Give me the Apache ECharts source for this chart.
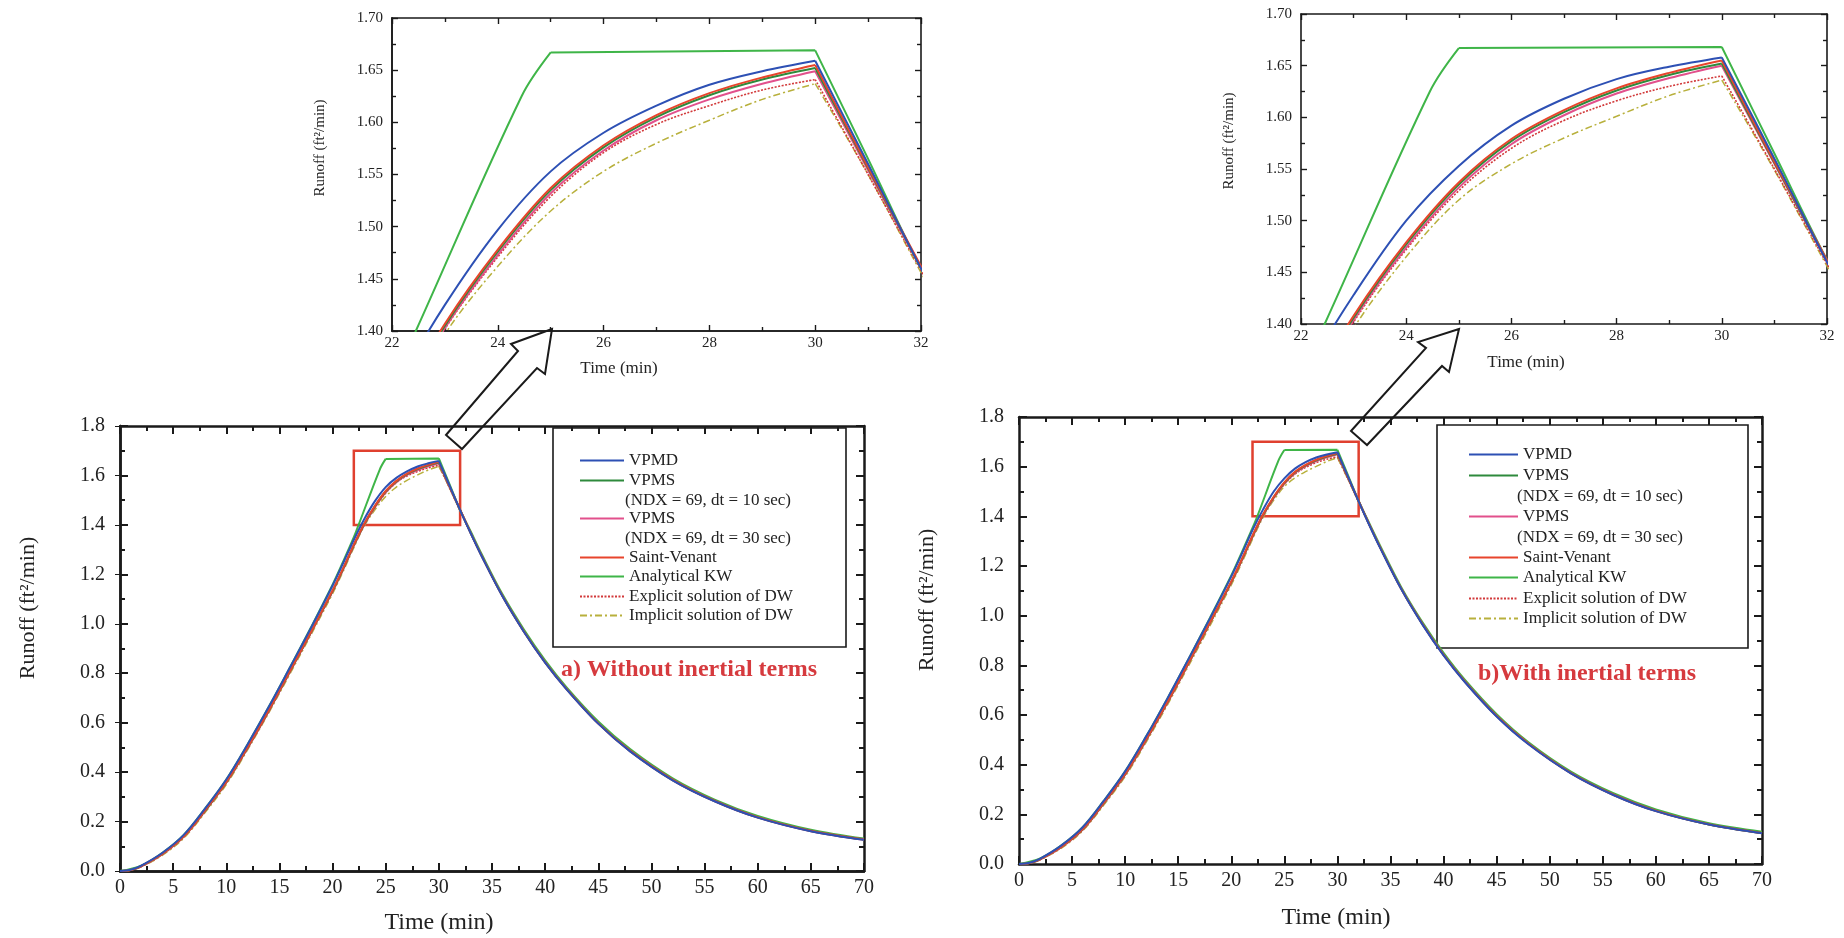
<!DOCTYPE html>
<html>

<head>
    <meta charset="utf-8">
    <title>Runoff hydrographs - with / without inertial terms</title>
    <style>
        html,
        body {
            margin: 0;
            padding: 0;
            background-color: #fff;
        }
        #chart {
            width: 1844px;
            height: 938px;
        }
    </style>
</head>

<body>
    <div id="chart"></div>

    <script src="https://cdn.jsdelivr.net/npm/echarts@6/dist/echarts.min.js"></script>

    <script>
        // ---- data (time in min, runoff in ft2/min) ----
        var timeSteps = [0, 1, 2, 4, 6, 8, 10, 12, 14, 16, 18, 20, 21, 22, 23, 24, 25, 26, 27, 28, 29, 30,
            31, 32, 33, 34, 36, 38, 40, 42, 45, 48, 52, 56, 60, 65, 70];
        var kwTime = [0, 2, 4, 6, 8, 10, 12, 14, 16, 18, 20, 21, 22, 22.45, 24.45, 25, 30,
            31, 32, 33, 34, 36, 38, 40, 42, 45, 48, 52, 56, 60, 65, 70];
        var peakTime = 30;   // rain stops here, the hydrographs have a corner
        var kwCorner = 25;   // analytical KW reaches equilibrium

        // a) without inertial terms
        var vpmdA = [0, 0.005, 0.022, 0.074, 0.146, 0.252, 0.37, 0.512, 0.664, 0.824, 0.986, 1.155, 1.246, 1.34, 1.425, 1.497, 1.553, 1.59, 1.616, 1.636, 1.649, 1.659,
            1.56, 1.46, 1.366, 1.276, 1.11, 0.968, 0.843, 0.736, 0.596, 0.484, 0.367, 0.281, 0.216, 0.161, 0.126];
        var vpms10A = [0, 0.004, 0.02, 0.07, 0.14, 0.244, 0.359, 0.499, 0.649, 0.809, 0.969, 1.133, 1.223, 1.318, 1.405, 1.476, 1.535, 1.576, 1.605, 1.626, 1.641, 1.652,
            1.556, 1.461, 1.367, 1.277, 1.111, 0.969, 0.844, 0.737, 0.597, 0.485, 0.368, 0.282, 0.217, 0.162, 0.127];
        var vpms30A = [0, 0.004, 0.019, 0.069, 0.139, 0.243, 0.358, 0.497, 0.647, 0.807, 0.967, 1.131, 1.221, 1.316, 1.403, 1.473, 1.532, 1.573, 1.602, 1.622, 1.637, 1.649,
            1.554, 1.46, 1.366, 1.276, 1.11, 0.968, 0.843, 0.736, 0.596, 0.484, 0.367, 0.281, 0.216, 0.161, 0.126];
        var saintVenantA = [0, 0.004, 0.02, 0.07, 0.14, 0.245, 0.36, 0.5, 0.65, 0.81, 0.97, 1.135, 1.225, 1.32, 1.407, 1.478, 1.537, 1.578, 1.607, 1.628, 1.643, 1.655,
            1.557, 1.462, 1.368, 1.278, 1.112, 0.97, 0.845, 0.738, 0.598, 0.487, 0.37, 0.283, 0.218, 0.163, 0.128];
        var kwA = [0, 0.022, 0.074, 0.146, 0.252, 0.37, 0.512, 0.664, 0.824, 0.988, 1.158, 1.252, 1.35, 1.4, 1.625, 1.667, 1.669,
            1.565, 1.46, 1.373, 1.284, 1.118, 0.977, 0.852, 0.744, 0.605, 0.493, 0.375, 0.288, 0.223, 0.167, 0.131];
        var explicitA = [0, 0.003, 0.018, 0.067, 0.137, 0.241, 0.356, 0.495, 0.645, 0.805, 0.965, 1.129, 1.219, 1.314, 1.402, 1.471, 1.529, 1.571, 1.598, 1.616, 1.631, 1.641,
            1.55, 1.458, 1.366, 1.277, 1.112, 0.97, 0.845, 0.738, 0.598, 0.487, 0.37, 0.283, 0.218, 0.163, 0.128];
        var implicitA = [0, 0.003, 0.017, 0.064, 0.133, 0.236, 0.35, 0.49, 0.64, 0.798, 0.958, 1.122, 1.212, 1.308, 1.397, 1.462, 1.515, 1.553, 1.58, 1.602, 1.622, 1.637,
            1.55, 1.456, 1.365, 1.277, 1.112, 0.97, 0.845, 0.738, 0.598, 0.487, 0.37, 0.283, 0.218, 0.163, 0.128];

        // b) with inertial terms
        var vpmdB = [0, 0.005, 0.022, 0.075, 0.148, 0.255, 0.373, 0.515, 0.668, 0.828, 0.99, 1.158, 1.25, 1.345, 1.428, 1.5, 1.553, 1.592, 1.618, 1.637, 1.649, 1.658,
            1.56, 1.46, 1.365, 1.275, 1.108, 0.965, 0.84, 0.733, 0.594, 0.482, 0.365, 0.278, 0.213, 0.159, 0.124];
        var vpms10B = [0, 0.004, 0.02, 0.07, 0.14, 0.246, 0.362, 0.502, 0.653, 0.812, 0.973, 1.136, 1.226, 1.32, 1.406, 1.477, 1.535, 1.577, 1.605, 1.626, 1.641, 1.652,
            1.556, 1.461, 1.367, 1.277, 1.109, 0.967, 0.842, 0.735, 0.596, 0.484, 0.366, 0.279, 0.214, 0.159, 0.124];
        var vpms30B = [0, 0.004, 0.019, 0.069, 0.139, 0.245, 0.36, 0.5, 0.651, 0.81, 0.971, 1.134, 1.224, 1.318, 1.404, 1.474, 1.532, 1.574, 1.602, 1.623, 1.638, 1.65,
            1.555, 1.46, 1.366, 1.276, 1.108, 0.966, 0.841, 0.734, 0.595, 0.483, 0.365, 0.278, 0.213, 0.159, 0.124];
        var saintVenantB = [0, 0.004, 0.02, 0.07, 0.141, 0.247, 0.363, 0.503, 0.654, 0.813, 0.974, 1.138, 1.228, 1.322, 1.408, 1.479, 1.537, 1.579, 1.607, 1.628, 1.643, 1.655,
            1.557, 1.462, 1.368, 1.278, 1.11, 0.968, 0.843, 0.736, 0.597, 0.485, 0.367, 0.28, 0.215, 0.16, 0.125];
        var kwB = [0, 0.022, 0.075, 0.148, 0.255, 0.373, 0.515, 0.668, 0.828, 0.992, 1.162, 1.256, 1.353, 1.4, 1.625, 1.667, 1.668,
            1.565, 1.462, 1.372, 1.284, 1.116, 0.974, 0.85, 0.742, 0.603, 0.49, 0.372, 0.285, 0.22, 0.164, 0.13];
        var explicitB = [0, 0.003, 0.018, 0.067, 0.137, 0.243, 0.358, 0.498, 0.648, 0.807, 0.968, 1.131, 1.221, 1.316, 1.402, 1.472, 1.529, 1.57, 1.597, 1.616, 1.63, 1.64,
            1.55, 1.458, 1.366, 1.277, 1.11, 0.968, 0.843, 0.736, 0.597, 0.485, 0.367, 0.28, 0.215, 0.16, 0.125];
        var implicitB = [0, 0.003, 0.017, 0.064, 0.134, 0.238, 0.352, 0.492, 0.642, 0.8, 0.96, 1.124, 1.214, 1.308, 1.396, 1.465, 1.52, 1.555, 1.58, 1.601, 1.621, 1.636,
            1.549, 1.456, 1.365, 1.277, 1.11, 0.968, 0.843, 0.736, 0.597, 0.485, 0.367, 0.28, 0.215, 0.16, 0.125];

        // zoom window shown in the insets: [tMin, tMax, qMin, qMax]
        var zoomBox = [22, 32, 1.4, 1.7];

        var seriesNames = ['VPMD', 'VPMS (NDX = 69, dt = 10 sec)', 'VPMS (NDX = 69, dt = 30 sec)', 'Saint-Venant',
            'Analytical KW', 'Explicit solution of DW', 'Implicit solution of DW'];
        var noteLines = ['(NDX = 69, dt = 10 sec)', '(NDX = 69, dt = 30 sec)'];

        // ---- styling ----
        var serif = 'Liberation Serif';
        var ink = '#1a1a1a';
        var clear = 'rgba(0,0,0,0)';
        var lineLook = {
            'VPMD': { color: '#2d50b4', type: 'solid', width: 2 },
            'VPMS (NDX = 69, dt = 10 sec)': { color: '#2e8a3c', type: 'solid', width: 2 },
            'VPMS (NDX = 69, dt = 30 sec)': { color: '#e2508c', type: 'solid', width: 2 },
            'Saint-Venant': { color: '#e8452c', type: 'solid', width: 2 },
            'Analytical KW': { color: '#3fb548', type: 'solid', width: 2 },
            'Explicit solution of DW': { color: '#d2393a', type: [2, 1.5], width: 1.6 },
            'Implicit solution of DW': { color: '#b8b03c', type: [7, 3, 2, 3], width: 1.5 }
        };
        // drawing order (last on top)
        var drawOrder = [6, 5, 2, 1, 4, 3, 0];

        var panels = [{
            main: { left: 120, top: 426, width: 744, height: 445 },
            inset: { left: 392, top: 18, width: 529, height: 313 },
            curves: [vpmdA, vpms10A, vpms30A, saintVenantA, kwA, explicitA, implicitA],
            box: { x: 553, y: 428, w: 293, h: 219 },
            lineX: 579, lineW: 44, textX: 630,
            rows: [462, 482, 501, 520, 539, 559, 578, 598, 617],
            tag: { text: 'a) Without inertial terms', x: 561, y: 670 },
            yName: [28, 608], xName: [439, 923],
            insetYName: [320, 148], insetXName: [619, 369],
            arrow: [[552, 329], [511, 344], [518, 351], [446, 435], [462, 449], [537, 368], [545, 374]]
        }, {
            main: { left: 1019, top: 417, width: 743, height: 447 },
            inset: { left: 1301, top: 14, width: 526, height: 310 },
            curves: [vpmdB, vpms10B, vpms30B, saintVenantB, kwB, explicitB, implicitB],
            box: { x: 1437, y: 425, w: 311, h: 223 },
            lineX: 1468, lineW: 49, textX: 1522,
            rows: [456, 477, 497, 518, 538, 559, 579, 600, 620],
            tag: { text: 'b)With inertial terms', x: 1478, y: 674 },
            yName: [927, 600], xName: [1336, 918],
            insetYName: [1229, 141], insetXName: [1526, 363],
            arrow: [[1459, 329], [1418, 342], [1426, 348], [1351, 431], [1367, 445], [1442, 366], [1449, 372]]
        }];

        // pair times with values and break the polyline at the corners,
        // so that smoothing never rounds over the peak
        function pairs(ts, vs, corners) {
            var out = [];
            ts.forEach(function (t, i) {
                out.push([t, vs[i]]);
                if (corners.indexOf(t) >= 0 && i > 0 && i < ts.length - 1) {
                    out.push([t, '-']);
                    out.push([t, vs[i]]);
                }
            });
            return out;
        }

        // the labelled axes of the first panel keep a plain tick setup
        // (the inward ticks there come from the twin axes added at the end)
        var plainTicks = {
            'ax0x': { axisTick: { show: true, inside: false, length: 8, lineStyle: { color: clear, width: 3 } } },
            'ax0y': { axisTick: null },
            'ax1x': { axisTick: { show: true, lineStyle: { color: clear } } },
            'ax1y': { axisTick: { show: true, inside: true, lineStyle: { color: ink } } }
        };
        var axisCfg = {};

        // bottom/left axis with labels + top/right mirror axis, ticks pointing in
        function axisPair(gridIndex, dim, cfg) {
            axisCfg['ax' + gridIndex + dim] = cfg;
            var first = {
                type: 'value',
                gridIndex: gridIndex,
                position: dim === 'x' ? 'bottom' : 'left',
                min: cfg.min,
                max: cfg.max,
                interval: cfg.interval,
                splitLine: { show: false },
                axisLine: { show: true, onZero: false, lineStyle: { color: ink, width: cfg.lw } },
                axisTick: { show: true, inside: true, length: cfg.tick, lineStyle: { color: ink, width: cfg.tw } },
                minorTick: { show: true, splitNumber: 2, length: cfg.minor, lineStyle: { color: ink, width: cfg.tw } },
                axisLabel: {
                    show: true, color: '#222', fontFamily: serif, fontSize: cfg.fs, margin: cfg.margin,
                    formatter: function (v) { return cfg.digits ? v.toFixed(cfg.digits) : String(Math.round(v)); }
                }
            };
            var v = plainTicks['ax' + gridIndex + dim];
            if (v) {
                delete first.minorTick;
                if (v.axisTick) { first.axisTick = v.axisTick; } else { delete first.axisTick; }
            }
            var second = {
                type: 'value',
                gridIndex: gridIndex,
                position: dim === 'x' ? 'top' : 'right',
                min: cfg.min,
                max: cfg.max,
                interval: cfg.interval,
                splitLine: { show: false },
                axisLine: { show: true, onZero: false, lineStyle: { color: ink, width: cfg.lw } },
                axisTick: { show: true, inside: true, length: cfg.tick, lineStyle: { color: ink, width: cfg.tw } },
                minorTick: { show: true, splitNumber: 2, length: cfg.minor, lineStyle: { color: ink, width: cfg.tw } },
                axisLabel: { show: false }
            };
            return [first, second];
        }

        // tick-only axis laid over a labelled one
        function twinAxis(gridIndex, dim) {
            var cfg = axisCfg['ax' + gridIndex + dim];
            return {
                type: 'value',
                gridIndex: gridIndex,
                position: dim === 'x' ? 'bottom' : 'left',
                min: cfg.min,
                max: cfg.max,
                interval: cfg.interval,
                splitLine: { show: false },
                axisLine: { show: true, onZero: false, lineStyle: { color: ink, width: cfg.lw } },
                axisTick: { show: true, inside: true, length: cfg.tick, lineStyle: { color: ink, width: cfg.tw } },
                minorTick: { show: true, splitNumber: 2, length: cfg.minor, lineStyle: { color: ink, width: cfg.tw } },
                axisLabel: { show: false }
            };
        }

        var grids = [], xAxes = [], yAxes = [], series = [], legends = [], graphics = [];

        panels.forEach(function (p) {
            var mainIdx = grids.length;
            grids.push(Object.assign({ containLabel: false }, p.main));
            var insetIdx = grids.length;
            grids.push(Object.assign({ containLabel: false }, p.inset));

            xAxes = xAxes.concat(axisPair(mainIdx, 'x', { min: 0, max: 70, interval: 5, lw: 2.5, tw: 2, tick: 8, minor: 5, fs: 20, margin: 7, digits: 0 }));
            yAxes = yAxes.concat(axisPair(mainIdx, 'y', { min: 0, max: 1.8, interval: 0.2, lw: 2.5, tw: 2, tick: 8, minor: 5, fs: 20, margin: 15, digits: 1 }));
            xAxes = xAxes.concat(axisPair(insetIdx, 'x', { min: zoomBox[0], max: zoomBox[1], interval: 2, lw: 1.6, tw: 1.4, tick: 6, minor: 4, fs: 15, margin: 5, digits: 0 }));
            yAxes = yAxes.concat(axisPair(insetIdx, 'y', { min: zoomBox[2], max: zoomBox[3], interval: 0.05, lw: 1.6, tw: 1.4, tick: 6, minor: 4, fs: 15, margin: 9, digits: 2 }));

            var mainAxis = mainIdx * 2;    // bottom/left axis index of the main grid
            var insetAxis = insetIdx * 2;

            drawOrder.forEach(function (k) {
                var name = seriesNames[k];
                var look = lineLook[name];
                var isKW = name === 'Analytical KW';
                var data = isKW ? pairs(kwTime, p.curves[k], [kwCorner, peakTime]) : pairs(timeSteps, p.curves[k], [peakTime]);
                [mainAxis, insetAxis].forEach(function (ax, j) {
                    var s = {
                        name: name,
                        type: 'line',
                        xAxisIndex: ax,
                        yAxisIndex: ax,
                        data: data,
                        symbol: 'none',
                        smooth: 0.35,
                        connectNulls: false,
                        clip: true,
                        silent: true,
                        lineStyle: { color: look.color, type: look.type, width: look.width },
                        itemStyle: { color: look.color },
                        z: 3
                    };
                    if (j === 0 && k === 0) {
                        s.markArea = {
                            silent: true,
                            label: { show: false },
                            itemStyle: { color: clear, borderColor: '#e0402f', borderWidth: 2.5 },
                            data: [[{ coord: [zoomBox[0], zoomBox[2]] }, { coord: [zoomBox[1], zoomBox[3]] }]]
                        };
                    }
                    series.push(s);
                });
            });

            // legend: one component per row so the wrapped notes can sit between entries
            var legendRows = [0, 1, 3, 5, 6, 7, 8];
            legendRows.forEach(function (row, k) {
                legends.push({
                    data: [seriesNames[k]],
                    left: p.lineX,
                    top: p.rows[row] - 10,
                    padding: 0,
                    itemGap: 0,
                    itemWidth: p.lineW,
                    itemHeight: 20,
                    selectedMode: false,
                    itemStyle: { opacity: 0 },
                    textStyle: { fontFamily: serif, fontSize: 17, color: '#222' },
                    formatter: function (n) { return n.split(' (')[0]; }
                });
            });
            graphics.push({
                type: 'text', x: p.textX - 5, y: p.rows[2],
                style: { text: noteLines[0], fontFamily: serif, fontSize: 17, fill: '#222', align: 'left', verticalAlign: 'middle' }
            });
            graphics.push({
                type: 'text', x: p.textX - 5, y: p.rows[4],
                style: { text: noteLines[1], fontFamily: serif, fontSize: 17, fill: '#222', align: 'left', verticalAlign: 'middle' }
            });
            graphics.push({
                type: 'rect', shape: { x: p.box.x, y: p.box.y, width: p.box.w, height: p.box.h },
                style: { fill: clear, stroke: ink, lineWidth: 1.6 }
            });

            // panel caption
            graphics.push({
                type: 'text', x: p.tag.x, y: p.tag.y,
                style: { text: p.tag.text, fontFamily: serif, fontSize: 24, fontWeight: 'bold', fill: '#d63a3e', align: 'left', verticalAlign: 'middle' }
            });

            // axis titles
            graphics.push({
                type: 'text', x: p.yName[0], y: p.yName[1], rotation: Math.PI / 2,
                style: { text: 'Runoff (ft\u00b2/min)', fontFamily: serif, fontSize: 22, fill: '#222', align: 'center', verticalAlign: 'middle' }
            });
            graphics.push({
                type: 'text', x: p.xName[0], y: p.xName[1],
                style: { text: 'Time (min)', fontFamily: serif, fontSize: 24, fill: '#222', align: 'center', verticalAlign: 'middle' }
            });
            graphics.push({
                type: 'text', x: p.insetYName[0], y: p.insetYName[1], rotation: Math.PI / 2,
                style: { text: 'Runoff (ft\u00b2/min)', fontFamily: serif, fontSize: 15, fill: '#222', align: 'center', verticalAlign: 'middle' }
            });
            graphics.push({
                type: 'text', x: p.insetXName[0], y: p.insetXName[1],
                style: { text: 'Time (min)', fontFamily: serif, fontSize: 17, fill: '#222', align: 'center', verticalAlign: 'middle' }
            });

            // hollow arrow from the zoom box up to the inset
            graphics.push({
                type: 'polygon', z: 100,
                shape: { points: p.arrow },
                style: { fill: clear, stroke: ink, lineWidth: 2 }
            });
        });

        // inward major + minor ticks for the first panel's labelled sides
        xAxes.push(twinAxis(0, 'x'), twinAxis(1, 'x'));
        yAxes.push(twinAxis(0, 'y'), twinAxis(1, 'y'));

        var chart = echarts.init(document.getElementById('chart'), null, { renderer: 'canvas' });
        chart.setOption({
            backgroundColor: '#ffffff',
            animation: false,
            textStyle: { fontFamily: serif },
            grid: grids,
            xAxis: xAxes,
            yAxis: yAxes,
            legend: legends,
            series: series,
            graphic: graphics
        });
    </script>

</body>

</html>
